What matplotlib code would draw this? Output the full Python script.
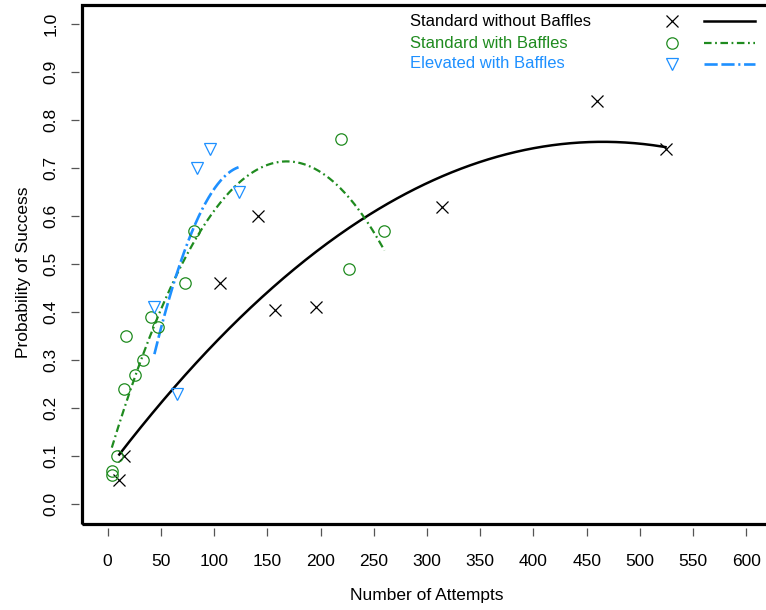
import numpy as np
import matplotlib
matplotlib.use("Agg")
import matplotlib.pyplot as plt
from matplotlib.patches import Rectangle
from matplotlib.lines import Line2D

plt.rcParams['font.family'] = ['Liberation Sans', 'DejaVu Sans']

# Standard setup without baffles
std_nb_attempts = [11, 15, 106, 141, 157, 196, 314, 460, 524]
std_nb_success = [0.05, 0.10, 0.46, 0.60, 0.405, 0.41, 0.62, 0.84, 0.74]
# quadratic trend for this setup, vertex form: peak attempts, peak value, curvature
std_nb_trend = [465.0, 0.755, 3.16e-6]

# Standard setup with baffles
std_b_attempts = [4, 4, 9, 15, 17, 26, 33, 41, 47, 73, 81, 219, 227, 260]
std_b_success = [0.07, 0.06, 0.10, 0.24, 0.35, 0.27, 0.30, 0.39, 0.37, 0.46,
                 0.57, 0.76, 0.49, 0.57]

# Elevated setup with baffles
elev_attempts = [44, 65, 84, 96, 123]
elev_success = [0.41, 0.23, 0.70, 0.74, 0.65]

series_labels = ["Standard without Baffles", "Standard with Baffles",
                 "Elevated with Baffles"]
x_ticks = list(range(0, 601, 50))
y_ticks = [round(0.1 * i, 1) for i in range(11)]

BLACK = "black"
GREEN = "#1f8b1f"
BLUE = "#1e90ff"

W, H = 766, 610
fig = plt.figure(figsize=(W / 100, H / 100), dpi=100)
ax = fig.add_axes([82 / W, 86.5 / H, 690 / W, 518.5 / H])
ax.set_xlim(-24, 624)
ax.set_ylim(-0.04, 1.04)


def quad_curve(x, y, vertex=None):
    x = np.asarray(x, float)
    y = np.asarray(y, float)
    xs = np.linspace(x.min(), x.max(), 300)
    if vertex is not None:
        h, k, a = vertex
        return xs, k - a * (xs - h) ** 2
    coef = np.polyfit(x, y, 2)
    return xs, np.polyval(coef, xs)


series = [
    (std_nb_attempts, std_nb_success, std_nb_trend, BLACK, "x", "-", 1.8),
    (std_b_attempts, std_b_success, None, GREEN, "o",
     (0, (3.4, 1.6, 0.8, 1.6)), 1.6),
    (elev_attempts, elev_success, None, BLUE, "v",
     (0, (5, 1.4, 5, 1.4, 0.8, 1.4)), 1.9),
]

for xs, ys, vtx, col, mk, ls, lw in series:
    fx, fy = quad_curve(xs, ys, vtx)
    ax.plot(fx, fy, color=col, lw=lw, linestyle=ls, zorder=3)
    if mk == "x":
        ax.plot(xs, ys, linestyle="none", marker=mk, ms=8.5, mew=0.9,
                color=col, zorder=4)
    else:
        ax.plot(xs, ys, linestyle="none", marker=mk, ms=8.2, mew=0.9,
                mec=col, mfc="none", zorder=4)

# box frame
for sp in ax.spines.values():
    sp.set_visible(False)
ax.add_patch(Rectangle((0, 0), 1, 1, transform=ax.transAxes, fill=False,
                       lw=2.3, edgecolor="black", clip_on=False, zorder=5))
ax.spines['bottom'].set_position(('outward', 3))
ax.spines['left'].set_position(('outward', 2))

ax.set_xticks(x_ticks)
ax.set_xticklabels([str(t) for t in x_ticks])
ax.set_yticks(y_ticks)
ax.set_yticklabels([f"{t:.1f}" for t in y_ticks], rotation=90, va="center")
ax.tick_params(direction="out", length=5.8, width=0.9, color="#555555",
               labelsize=12.5, labelcolor="black")
ax.tick_params(axis="x", pad=13)
ax.tick_params(axis="y", pad=9)

ax.set_xlabel("Number of Attempts", fontsize=12.5, labelpad=14)
ax.set_ylabel("Probability of Success", fontsize=12.5, labelpad=10)
ax.yaxis.set_label_coords(-0.074, 0.485)

# legend: label, marker sample, line sample
rows_y = [21, 43, 64]
for (xs, ys, vtx, col, mk, ls, lw), lab, ry in zip(series, series_labels, rows_y):
    yf = 1 - ry / H
    fig.text(410 / W, yf, lab, color=col, fontsize=12, ha="left", va="center")
    if mk == "x":
        m = Line2D([672 / W], [yf], marker=mk, ms=8.5, mew=0.9, color=col,
                   linestyle="none", transform=fig.transFigure)
    else:
        m = Line2D([672 / W], [yf], marker=mk, ms=8.2, mew=0.9, mec=col,
                   mfc="none", linestyle="none", transform=fig.transFigure)
    fig.add_artist(m)
    fig.add_artist(Line2D([704 / W, 755 / W], [yf, yf], color=col, lw=lw,
                          linestyle=ls, transform=fig.transFigure))

fig.savefig("out.png", dpi=100)
